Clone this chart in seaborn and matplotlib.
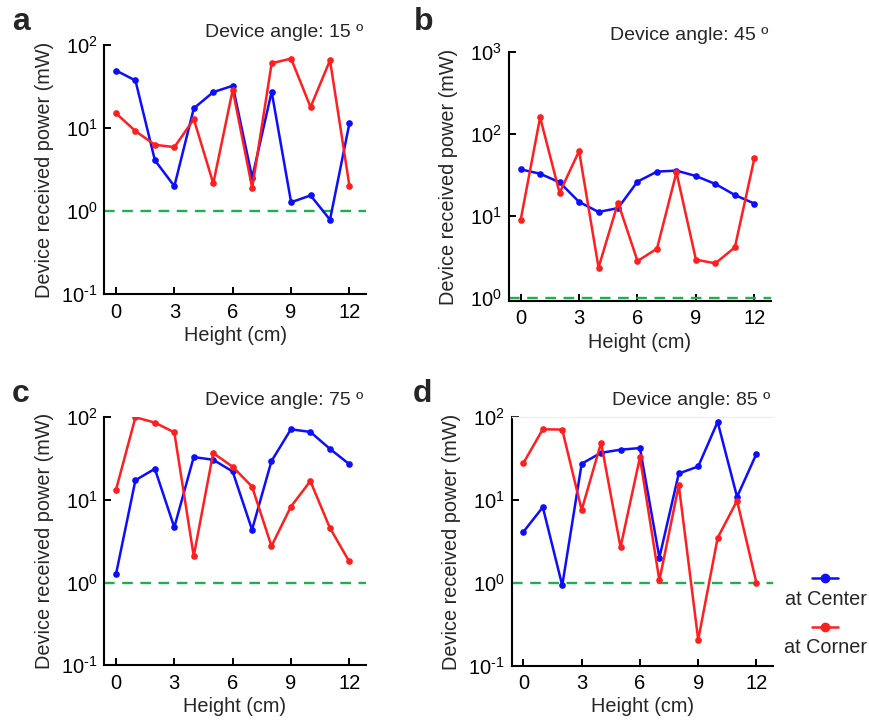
import numpy as np
import pandas as pd
import matplotlib
matplotlib.use("Agg")
import matplotlib.pyplot as plt
from matplotlib.lines import Line2D
from matplotlib.ticker import FuncFormatter, NullLocator
import seaborn as sns

# Heights (cm) at which the received power was measured
heights = list(range(13))

# Received power (mW) per device angle, receiver at the centre / corner
center_15 = [49.3, 37.4, 4.1, 2.0, 17.3, 27.1, 32.3, 2.53, 27.4, 1.28, 1.55, 0.79, 11.5]
corner_15 = [15.1, 9.2, 6.3, 5.9, 12.8, 2.16, 28.9, 1.9, 60.3, 68.6, 17.9, 65.5, 2.0]

center_45 = [37.4, 33.1, 26.0, 15.0, 11.3, 12.6, 26.5, 35.1, 36.1, 31.0, 24.8, 18.2, 14.3]
corner_45 = [9.0, 161.0, 19.3, 62.6, 2.37, 14.7, 2.85, 4.03, 34.4, 2.96, 2.67, 4.19, 50.9]

center_75 = [1.26, 17.3, 23.8, 4.66, 33.0, 30.6, 22.1, 4.36, 29.5, 71.5, 66.4, 41.6, 27.1]
corner_75 = [13.2, 100.0, 86.1, 65.7, 2.09, 36.9, 25.2, 14.5, 2.76, 8.3, 16.9, 4.61, 1.80]

center_85 = [4.12, 8.2, 0.93, 27.4, 37.2, 40.5, 42.4, 2.01, 20.9, 25.4, 87.8, 10.9, 36.2]
corner_85 = [27.9, 71.5, 70.8, 7.57, 49.2, 2.69, 32.7, 1.07, 15.1, 0.205, 3.49, 9.8, 0.99]

angles = [15, 45, 75, 85]
panel_letters = ["a", "b", "c", "d"]
series_names = ["at Center", "at Corner"]
threshold_mw = 1.0
x_ticks = [0, 3, 6, 9, 12]
y_ticks_std = [0.1, 1, 10, 100]
y_ticks_45 = [1, 10, 100, 1000]

colors = {"at Center": "#0d0dff", "at Corner": "#ff1f1f"}
green = "#1db04f"

sns.set_theme(style="ticks")
plt.rcParams["font.family"] = ["Liberation Sans", "DejaVu Sans"]
plt.rcParams["mathtext.fontset"] = "custom"
plt.rcParams["mathtext.rm"] = "Liberation Sans"
plt.rcParams["axes.unicode_minus"] = False


def decade_label(value, pos):
    exp = int(round(np.log10(value)))
    if exp < 0:
        return r"$\mathdefault{10^{\text{-}%d}}$" % (-exp)
    return r"$\mathdefault{10^{%d}}$" % exp


fig = plt.figure(figsize=(8.70, 7.21), dpi=100)

# axes rectangles [left, bottom, width, height] in figure fraction
rects = [
    [0.1199, 0.5918, 0.3008, 0.3458],
    [0.5850, 0.5825, 0.3011, 0.3449],
    [0.1199, 0.0773, 0.3005, 0.3440],
    [0.5882, 0.0767, 0.3003, 0.3447],
]
ylims = [(0.1, 100), (0.927, 1000), (0.1, 100), (0.1, 100)]
yticks = [y_ticks_std, y_ticks_45, y_ticks_std, y_ticks_std]
title_offsets = [6, 9, 9, 9]
letter_pos = [(0.014, 0.958), (0.476, 0.958), (0.013, 0.443), (0.474, 0.443)]

data_sets = [
    (center_15, corner_15),
    (center_45, corner_45),
    (center_75, corner_75),
    (center_85, corner_85),
]

for i, (cen, cor) in enumerate(data_sets):
    ax = fig.add_axes(rects[i])
    df = pd.DataFrame({
        "Height": heights * 2,
        "Power": list(cen) + list(cor),
        "Position": [series_names[0]] * len(heights) + [series_names[1]] * len(heights),
    })
    ax.axhline(threshold_mw, color=green, lw=1.7, dashes=(4.5, 3.2), zorder=1)
    sns.lineplot(
        data=df, x="Height", y="Power", hue="Position", palette=colors,
        marker="o", markersize=4.8, markeredgewidth=0, linewidth=1.8,
        legend=False, ax=ax, zorder=3,
    )
    ax.set_yscale("log")
    ax.set_ylim(*ylims[i])
    ax.set_xlim(-0.6, 12.85)
    ax.set_xticks(x_ticks)
    ax.set_yticks(yticks[i])
    ax.yaxis.set_major_formatter(FuncFormatter(decade_label))
    ax.yaxis.set_minor_locator(NullLocator())
    ax.tick_params(axis="both", which="major", direction="in", length=5,
                   width=1.4, color="black", labelsize=14.5, labelcolor="black")
    ax.tick_params(axis="x", pad=6)
    ax.tick_params(axis="y", pad=5)
    for side in ["left", "bottom"]:
        ax.spines[side].set_linewidth(1.5)
        ax.spines[side].set_color("black")
    ax.spines["top"].set_visible(False)
    ax.spines["right"].set_visible(False)
    if i == 3:
        ax.spines["top"].set_visible(True)
        ax.spines["top"].set_color("#eeeeee")
        ax.spines["top"].set_linewidth(1.0)
    ax.set_xlabel("Height (cm)", fontsize=14.3, labelpad=3)
    ax.set_ylabel("Device received power (mW)", fontsize=14.3)
    ax.yaxis.set_label_coords(-0.193, 0.5)
    ax.annotate(f"Device angle: {angles[i]} º", xy=(1.0, 1.0), xycoords="axes fraction",
                xytext=(-2, title_offsets[i]), textcoords="offset points",
                ha="right", va="baseline", fontsize=14)
    fig.text(letter_pos[i][0], letter_pos[i][1], panel_letters[i], fontsize=23,
             fontweight="bold", ha="left", va="baseline")

# legend: line handle above each label, to the right of panel d
legend_rows = [(0.1988, 0.1692), (0.1308, 0.1017)]
for name, (y_line, y_text) in zip(series_names, legend_rows):
    fig.add_artist(Line2D([0.9333, 0.9632], [y_line, y_line], transform=fig.transFigure,
                          color=colors[name], lw=1.8))
    fig.add_artist(Line2D([0.9483], [y_line], transform=fig.transFigure,
                          color=colors[name], marker="o", markersize=7,
                          markeredgewidth=0, linestyle="none"))
    fig.text(0.9494, y_text, name, fontsize=14.3, ha="center", va="center")

fig.savefig("out.png", dpi=100)
